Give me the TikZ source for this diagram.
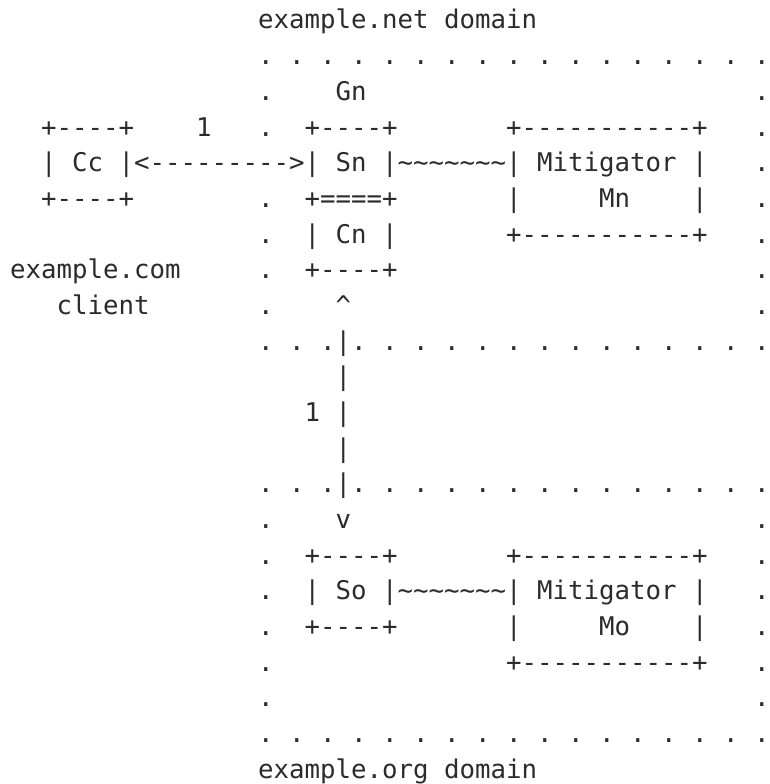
\documentclass[tikz,border=0pt]{standalone}
\usepackage{fontspec}
\setmonofont{DejaVu Sans Mono}
\definecolor{ink}{HTML}{2B2B2B}
\newcommand\T{\textasciitilde}
\tikzset{asc/.style={font=\ttfamily\fontsize{25.74}{30}\selectfont, inner sep=0pt, outer sep=0pt, anchor=base west, text=ink}}
\newcommand\seg[4]{\node[asc] (#1) at ({10.2+15.5*#2},{29+35.67*(#3-1)}) {#4};}
\begin{document}
\frenchspacing
\begin{tikzpicture}[x=1pt,y=-1pt]
\useasboundingbox (0,0) rectangle (770,784);
% row 1-3
\seg{netlabel}{16}{1}{example.net domain}
\seg{nettop}{16}{2}{. . . . . . . . . . . . . . . . .}
\seg{r3a}{16}{3}{.}
\seg{Gn}{21}{3}{Gn}
\seg{r3b}{48}{3}{.}
% row 4
\seg{CcTop}{2}{4}{+----+}
\seg{one1}{12}{4}{1}
\seg{r4a}{16}{4}{.}
\seg{SnTop}{19}{4}{+----+}
\seg{MnTop}{32}{4}{+-----------+}
\seg{r4b}{48}{4}{.}
% row 5
\seg{r5}{2}{5}{| Cc |<--------->| Sn |\T\T\T\T\T\T\T| Mitigator |}
\seg{r5b}{48}{5}{.}
% row 6
\seg{CcBot}{2}{6}{+----+}
\seg{r6a}{16}{6}{.}
\seg{SnBot}{19}{6}{+====+}
\seg{MnL}{32}{6}{|}
\seg{Mn}{38}{6}{Mn}
\seg{MnR}{44}{6}{|}
\seg{r6b}{48}{6}{.}
% row 7
\seg{r7a}{16}{7}{.}
\seg{Cn}{19}{7}{| Cn |}
\seg{MnBot}{32}{7}{+-----------+}
\seg{r7b}{48}{7}{.}
% row 8
\seg{comlabel}{0}{8}{example.com}
\seg{r8a}{16}{8}{.}
\seg{CnBot}{19}{8}{+----+}
\seg{r8b}{48}{8}{.}
% row 9
\seg{client}{3}{9}{client}
\seg{r9a}{16}{9}{.}
\seg{up}{21}{9}{\textasciicircum}
\seg{r9b}{48}{9}{.}
% row 10-14
\seg{netbot}{16}{10}{. . .|. . . . . . . . . . . . . .}
\seg{v11}{21}{11}{|}
\seg{one2}{19}{12}{1}
\seg{v12}{21}{12}{|}
\seg{v13}{21}{13}{|}
\seg{orgtop}{16}{14}{. . .|. . . . . . . . . . . . . .}
% row 15
\seg{r15a}{16}{15}{.}
\seg{down}{21}{15}{v}
\seg{r15b}{48}{15}{.}
% row 16
\seg{r16a}{16}{16}{.}
\seg{SoTop}{19}{16}{+----+}
\seg{MoTop}{32}{16}{+-----------+}
\seg{r16b}{48}{16}{.}
% row 17
\seg{r17a}{16}{17}{.}
\seg{So}{19}{17}{| So |\T\T\T\T\T\T\T| Mitigator |}
\seg{r17b}{48}{17}{.}
% row 18
\seg{r18a}{16}{18}{.}
\seg{SoBot}{19}{18}{+----+}
\seg{MoL}{32}{18}{|}
\seg{Mo}{38}{18}{Mo}
\seg{MoR}{44}{18}{|}
\seg{r18b}{48}{18}{.}
% row 19-22
\seg{r19a}{16}{19}{.}
\seg{MoBot}{32}{19}{+-----------+}
\seg{r19b}{48}{19}{.}
\seg{r20a}{16}{20}{.}
\seg{r20b}{48}{20}{.}
\seg{orgbot}{16}{21}{. . . . . . . . . . . . . . . . .}
\seg{orglabel}{16}{22}{example.org domain}
\end{tikzpicture}
\end{document}
